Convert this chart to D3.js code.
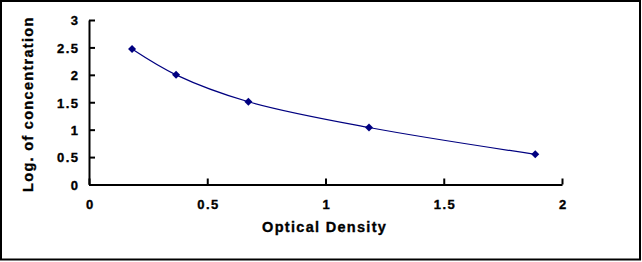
<!DOCTYPE html>
<html>
<head>
<meta charset="utf-8">
<script src="https://cdnjs.cloudflare.com/ajax/libs/d3/7.8.5/d3.min.js"></script>
<style>
  body { margin: 0; background: #fff; }
  svg { display: block; }
  text { font-family: "Liberation Sans", Arial, sans-serif; font-weight: bold; fill: #000; stroke: #000; stroke-width: 0.35px; }
</style>
</head>
<body>
<svg width="642" height="262"></svg>
<script>
const density = [0.182, 0.368, 0.674, 1.184, 1.887];
const logConc = [2.47, 2.0, 1.51, 1.04, 0.55];
const xTicks = [0, 0.5, 1, 1.5, 2];
const yTicks = [0, 0.5, 1, 1.5, 2, 2.5, 3];

const TICK_LS = 1.4;
const TITLE_LS = 1.3;

const svg = d3.select("svg");

// outer frame
svg.append("rect")
  .attr("x", 1).attr("y", 1)
  .attr("width", 639).attr("height", 258.5)
  .attr("fill", "none")
  .attr("stroke", "#000")
  .attr("stroke-width", 2);

const x = d3.scaleLinear().domain([0, 2]).range([89, 562]);
const y = d3.scaleLinear().domain([0, 3]).range([184.5, 20]);

// axes: ticks point inward
const xAxis = svg.append("g")
  .attr("transform", "translate(0," + y(0) + ")")
  .call(d3.axisBottom(x).tickValues(xTicks).tickSize(-6).tickSizeOuter(0).tickFormat(d3.format("")));
const yAxis = svg.append("g")
  .attr("transform", "translate(" + x(0) + ",0)")
  .call(d3.axisLeft(y).tickValues(yTicks).tickSize(-6).tickSizeOuter(0).tickFormat(d3.format("")));

[xAxis, yAxis].forEach(g => {
  g.select(".domain").attr("stroke", "#000").attr("stroke-width", 2);
  g.selectAll(".tick line").attr("stroke", "#000").attr("stroke-width", 2);
  g.selectAll(".tick text")
    .style("font-size", "13px")
    .style("letter-spacing", TICK_LS + "px")
    .attr("fill", "#000");
});

xAxis.selectAll(".tick text")
  .attr("y", 0).attr("dy", 0)
  .attr("transform", "translate(" + (TICK_LS / 2) + ",24.5)");
yAxis.selectAll(".tick text")
  .attr("x", 0).attr("dy", 0)
  .attr("transform", "translate(" + (-11 + TICK_LS) + ",4.8)");

// smoothed curve
const pts = density.map((d, i) => [x(d), y(logConc[i])]);
svg.append("path")
  .datum(pts)
  .attr("fill", "none")
  .attr("stroke", "#000080")
  .attr("stroke-width", 1.2)
  .attr("d", d3.line().curve(d3.curveCatmullRom.alpha(0.5)));

svg.selectAll(".marker")
  .data(pts)
  .enter()
  .append("path")
  .attr("class", "marker")
  .attr("transform", d => "translate(" + d[0] + "," + d[1] + ")")
  .attr("d", "M0,-4L4,0L0,4L-4,0Z")
  .attr("fill", "#000080");

// titles
svg.append("text")
  .attr("x", 324 + TITLE_LS / 2).attr("y", 232)
  .attr("text-anchor", "middle")
  .style("font-size", "14.5px")
  .style("letter-spacing", TITLE_LS + "px")
  .text("Optical Density");

svg.append("text")
  .attr("transform", "translate(33," + (103.5 + TITLE_LS / 2) + ") rotate(-90)")
  .attr("text-anchor", "middle")
  .style("font-size", "14.5px")
  .style("letter-spacing", TITLE_LS + "px")
  .text("Log. of concentration");
</script>
</body>
</html>
